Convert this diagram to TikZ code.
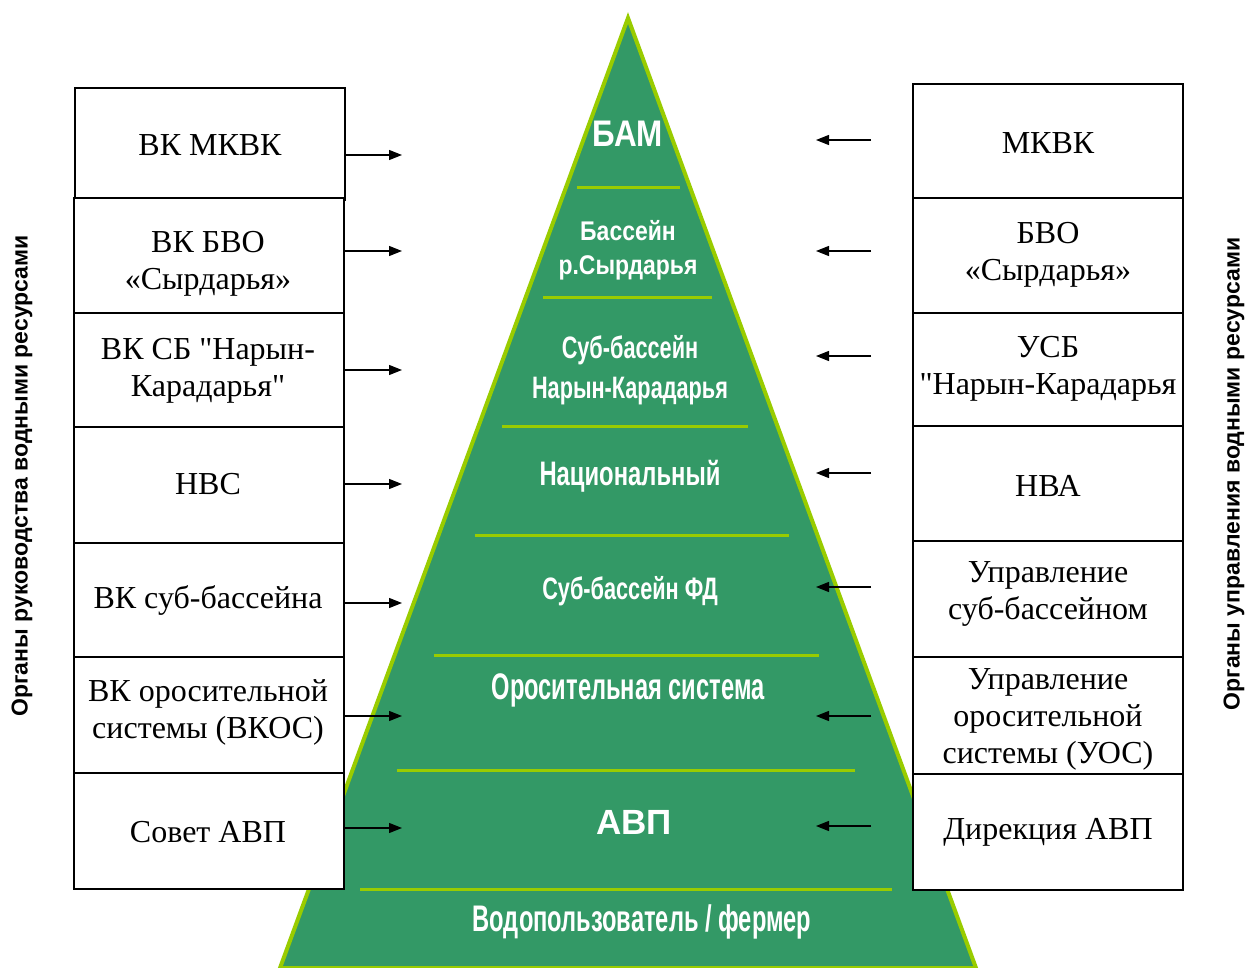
\documentclass[tikz,border=0pt]{standalone}
\usepackage{fontspec}
\setmainfont{Liberation Serif}[Ligatures=TeXOff]
\newfontfamily\sansb{Liberation Sans}
\newfontfamily\condn[FakeStretch=0.7]{Liberation Sans}
\newfontfamily\condt[FakeStretch=0.64]{Liberation Sans}
\newfontfamily\condm[FakeStretch=0.85]{Liberation Sans}
\usetikzlibrary{arrows.meta}
\definecolor{pgreen}{HTML}{339966}
\definecolor{lgreen}{HTML}{99CC00}
\begin{document}
\begin{tikzpicture}[x=1pt,y=-1pt,
 box/.style={draw, line width=1.6pt, fill=white, inner sep=0pt, minimum width=270pt},
 btext/.style={font=\fontsize{32}{37}\selectfont, align=center, inner sep=0pt},
 arr/.style={-{Triangle[length=13pt,width=10pt]}, line width=1.3pt},
 sep/.style={draw=lgreen, line width=3pt},
 ptext/.style={text=white, align=center, inner sep=0pt},
 vtext/.style={font=\sansb\bfseries\fontsize{23}{26}\selectfont, rotate=90, inner sep=0pt},
]
\useasboundingbox[fill=white] (0,0) rectangle (1248,968);

% pyramid
\coordinate (apex) at (628,18);
\coordinate (bl) at (280,968);
\coordinate (br) at (976,968);
\draw[draw=lgreen, fill=pgreen, line width=4pt] (apex) -- (br) -- (bl) -- cycle;
\draw[sep] (577,188) -- (680,188);
\draw[sep] (543,298) -- (712,298);
\draw[sep] (502,426) -- (748,426);
\draw[sep] (475,535) -- (789,535);
\draw[sep] (434,655) -- (819,655);
\draw[sep] (397,770) -- (855,770);
\draw[sep] (360,889) -- (892,889);

% pyramid labels
\node[ptext, font=\condm\bfseries\fontsize{37}{40}\selectfont] (p1) at (628,134) {БАМ};
\node[ptext, font=\condm\bfseries\fontsize{27}{34}\selectfont] (p2) at (628,250) {Бассейн\\р.Сырдарья};
\node[ptext, font=\condn\bfseries\fontsize{31}{40}\selectfont] (p3) at (630,370) {Суб-бассейн\\Нарын-Карадарья};
\node[ptext, font=\condn\bfseries\fontsize{34}{40}\selectfont] (p4) at (630,476) {Национальный};
\node[ptext, font=\condn\bfseries\fontsize{31}{40}\selectfont] (p5) at (630,591) {Суб-бассейн ФД};
\node[ptext, font=\condt\bfseries\fontsize{37}{44}\selectfont] (p6) at (628,690) {Оросительная система};
\node[ptext, font=\sansb\bfseries\fontsize{35}{40}\selectfont] (p7) at (634,822) {АВП};
\node[ptext, font=\condt\bfseries\fontsize{37}{44}\selectfont] (p8) at (642,922) {Водопользователь / фермер};

% left boxes
\node[box, minimum height=112pt] (L1) at (210,144) {};
\node[box, minimum height=115pt] (L2) at (209,255.5) {};
\node[box, minimum height=114pt] (L3) at (209,370) {};
\node[box, minimum height=116pt] (L4) at (209,485) {};
\node[box, minimum height=114pt] (L5) at (209,600) {};
\node[box, minimum height=116pt] (L6) at (209,715) {};
\node[box, minimum height=116pt] (L7) at (209,831) {};
\node[btext] (tL1) at (210,145) {ВК МКВК};
\node[btext] (tL2) at (208,264) {ВК БВО\\«Сырдарья»};
\node[btext] (tL3) at (208,371) {ВК СБ "Нарын-\\Карадарья"};
\node[btext] (tL4) at (208,484) {НВС};
\node[btext] (tL5) at (208,600) {ВК суб-бассейна};
\node[btext] (tL6) at (208,712) {ВК оросительной\\системы (ВКОС)};
\node[btext] (tL7) at (208,832) {Совет АВП};

% right boxes
\node[box, minimum height=114pt] (R1) at (1048,141) {};
\node[box, minimum height=115pt] (R2) at (1048,255.5) {};
\node[box, minimum height=113pt] (R3) at (1048,369.5) {};
\node[box, minimum height=115pt] (R4) at (1048,483.5) {};
\node[box, minimum height=116pt] (R5) at (1048,599) {};
\node[box, minimum height=117pt] (R6) at (1048,715.5) {};
\node[box, minimum height=116pt] (R7) at (1048,832) {};
\node[btext] (tR1) at (1048,143) {МКВК};
\node[btext] (tR2) at (1048,255) {БВО\\«Сырдарья»};
\node[btext] (tR3) at (1048,369) {УСБ\\"Нарын-Карадарья};
\node[btext] (tR4) at (1048,486) {НВА};
\node[btext] (tR5) at (1048,594) {Управление\\суб-бассейном};
\node[btext] (tR6) at (1048,719) {Управление\\оросительной\\системы (УОС)};
\node[btext] (tR7) at (1048,832) {Дирекция АВП};

% side labels
\node[vtext] (vl) at (22,476) {Органы руководства водными ресурсами};
\node[vtext] (vr) at (1234,474) {Органы управления водными ресурсами};

% left arrows
\coordinate (a1) at (402,155);
\coordinate (a2) at (402,251);
\coordinate (a3) at (402,370);
\coordinate (a4) at (402,484);
\coordinate (a5) at (402,603);
\coordinate (a6) at (402,716);
\coordinate (a7) at (402,828);
\draw[arr] (L1.east |- a1) -- (a1);
\draw[arr] (L2.east |- a2) -- (a2);
\draw[arr] (L3.east |- a3) -- (a3);
\draw[arr] (L4.east |- a4) -- (a4);
\draw[arr] (L5.east |- a5) -- (a5);
\draw[arr] (L6.east |- a6) -- (a6);
\draw[arr] (L7.east |- a7) -- (a7);

% right arrows
\coordinate (b1) at (871,140);
\coordinate (b2) at (871,251);
\coordinate (b3) at (871,356);
\coordinate (b4) at (871,473);
\coordinate (b5) at (871,587);
\coordinate (b6) at (871,716);
\coordinate (b7) at (871,826);
\coordinate (c1) at (816,140);
\coordinate (c2) at (816,251);
\coordinate (c3) at (816,356);
\coordinate (c4) at (816,473);
\coordinate (c5) at (816,587);
\coordinate (c6) at (816,716);
\coordinate (c7) at (816,826);
\draw[arr] (b1) -- (c1);
\draw[arr] (b2) -- (c2);
\draw[arr] (b3) -- (c3);
\draw[arr] (b4) -- (c4);
\draw[arr] (b5) -- (c5);
\draw[arr] (b6) -- (c6);
\draw[arr] (b7) -- (c7);
\end{tikzpicture}
\end{document}
